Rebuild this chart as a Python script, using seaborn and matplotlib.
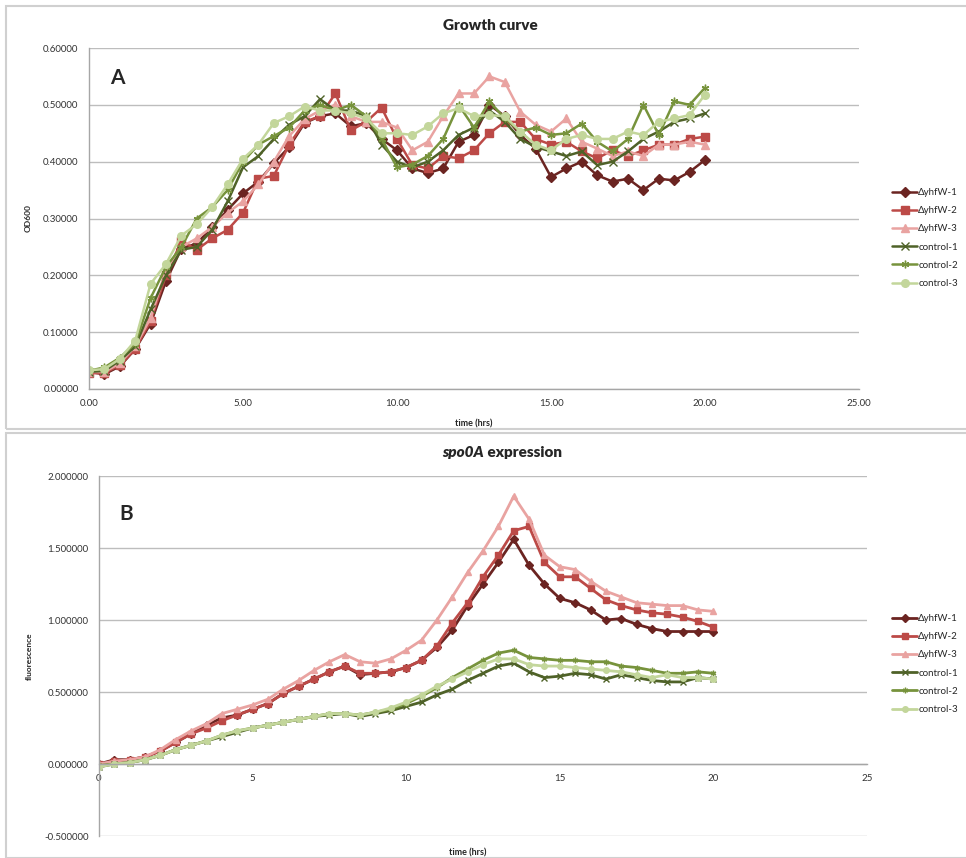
import numpy as np
import pandas as pd
import matplotlib
matplotlib.use("Agg")
import matplotlib.pyplot as plt
import matplotlib.patches as mpatches
from matplotlib.ticker import FormatStrFormatter
import seaborn as sns

# ---------------- data ----------------
series_names = ["\u0394yhfW-1", "\u0394yhfW-2", "\u0394yhfW-3", "control-1", "control-2", "control-3"]

time_a = [0.0, 0.5, 1.0, 1.5, 2.0, 2.5, 3.0, 3.5, 4.0, 4.5, 5.0, 5.5, 6.0, 6.5, 7.0, 7.5, 8.0, 8.5, 9.0, 9.5,
          10.0, 10.5, 11.0, 11.5, 12.0, 12.5, 13.0, 13.5, 14.0, 14.5, 15.0, 15.5, 16.0, 16.5, 17.0, 17.5, 18.0, 18.5,
          19.0, 19.5, 20.0]

od_yhfw1 = [0.030, 0.026, 0.040, 0.070, 0.115, 0.190, 0.247, 0.256, 0.285, 0.315, 0.344, 0.365, 0.397, 0.426, 0.468,
            0.480, 0.485, 0.462, 0.468, 0.440, 0.420, 0.388, 0.380, 0.388, 0.435, 0.447, 0.500, 0.480, 0.447, 0.423,
            0.373, 0.388, 0.400, 0.376, 0.365, 0.370, 0.350, 0.370, 0.367, 0.382, 0.403]
od_yhfw2 = [0.028, 0.028, 0.042, 0.070, 0.120, 0.200, 0.260, 0.245, 0.265, 0.280, 0.310, 0.370, 0.375, 0.430, 0.470,
            0.480, 0.520, 0.455, 0.470, 0.495, 0.440, 0.394, 0.388, 0.410, 0.406, 0.420, 0.450, 0.470, 0.470, 0.440,
            0.430, 0.435, 0.418, 0.406, 0.420, 0.410, 0.420, 0.430, 0.430, 0.440, 0.444]
od_yhfw3 = [0.030, 0.030, 0.045, 0.075, 0.125, 0.210, 0.250, 0.265, 0.285, 0.310, 0.330, 0.360, 0.400, 0.445, 0.475,
            0.490, 0.500, 0.480, 0.470, 0.470, 0.460, 0.420, 0.435, 0.480, 0.520, 0.520, 0.550, 0.540, 0.488, 0.465,
            0.453, 0.476, 0.435, 0.423, 0.410, 0.418, 0.410, 0.430, 0.430, 0.435, 0.430]
od_ctrl1 = [0.030, 0.032, 0.050, 0.075, 0.140, 0.200, 0.245, 0.250, 0.280, 0.330, 0.390, 0.410, 0.440, 0.465, 0.480,
            0.510, 0.490, 0.490, 0.480, 0.430, 0.400, 0.390, 0.400, 0.420, 0.447, 0.460, 0.490, 0.470, 0.440, 0.426,
            0.418, 0.410, 0.418, 0.394, 0.400, 0.418, 0.440, 0.453, 0.470, 0.476, 0.485]
od_ctrl2 = [0.032, 0.038, 0.055, 0.080, 0.160, 0.215, 0.250, 0.300, 0.320, 0.350, 0.400, 0.430, 0.445, 0.460, 0.490,
            0.500, 0.490, 0.500, 0.480, 0.440, 0.390, 0.395, 0.410, 0.440, 0.500, 0.460, 0.506, 0.476, 0.453, 0.460,
            0.447, 0.450, 0.467, 0.435, 0.418, 0.440, 0.500, 0.447, 0.506, 0.500, 0.530]
od_ctrl3 = [0.033, 0.035, 0.053, 0.085, 0.185, 0.220, 0.270, 0.290, 0.320, 0.360, 0.405, 0.430, 0.468, 0.480, 0.497,
            0.490, 0.490, 0.485, 0.476, 0.450, 0.450, 0.447, 0.462, 0.485, 0.494, 0.480, 0.482, 0.480, 0.453, 0.430,
            0.420, 0.440, 0.447, 0.440, 0.440, 0.453, 0.447, 0.470, 0.476, 0.482, 0.518]

time_b = time_a

fl_yhfw1 = [0.000, 0.030, 0.030, 0.050, 0.090, 0.150, 0.210, 0.270, 0.320, 0.340, 0.380, 0.420, 0.490, 0.540, 0.590,
            0.640, 0.680, 0.620, 0.630, 0.640, 0.670, 0.720, 0.810, 0.930, 1.100, 1.250, 1.400, 1.560, 1.380, 1.250,
            1.150, 1.120, 1.070, 1.000, 1.010, 0.970, 0.940, 0.920, 0.920, 0.920, 0.920]
fl_yhfw2 = [0.000, 0.020, 0.030, 0.050, 0.090, 0.150, 0.210, 0.250, 0.300, 0.340, 0.380, 0.420, 0.490, 0.540, 0.590,
            0.640, 0.680, 0.630, 0.630, 0.640, 0.670, 0.720, 0.820, 0.980, 1.120, 1.300, 1.450, 1.620, 1.650, 1.400,
            1.300, 1.300, 1.220, 1.140, 1.100, 1.070, 1.050, 1.040, 1.020, 0.990, 0.950]
fl_yhfw3 = [0.000, 0.020, 0.030, 0.050, 0.100, 0.170, 0.230, 0.280, 0.350, 0.380, 0.410, 0.450, 0.520, 0.580, 0.650,
            0.710, 0.760, 0.710, 0.700, 0.730, 0.790, 0.860, 1.000, 1.160, 1.330, 1.480, 1.650, 1.860, 1.700, 1.450,
            1.370, 1.350, 1.270, 1.200, 1.160, 1.120, 1.110, 1.100, 1.100, 1.070, 1.060]
fl_ctrl1 = [-0.020, 0.000, 0.010, 0.030, 0.060, 0.100, 0.130, 0.160, 0.190, 0.220, 0.250, 0.270, 0.290, 0.310, 0.330,
            0.340, 0.350, 0.330, 0.350, 0.370, 0.400, 0.430, 0.480, 0.520, 0.580, 0.630, 0.680, 0.700, 0.640, 0.600,
            0.610, 0.630, 0.620, 0.590, 0.620, 0.600, 0.580, 0.570, 0.570, 0.600, 0.590]
fl_ctrl2 = [-0.010, 0.000, 0.010, 0.030, 0.060, 0.100, 0.130, 0.160, 0.200, 0.230, 0.250, 0.270, 0.290, 0.310, 0.330,
            0.350, 0.350, 0.340, 0.360, 0.380, 0.420, 0.470, 0.530, 0.600, 0.660, 0.720, 0.770, 0.790, 0.740, 0.730,
            0.720, 0.720, 0.710, 0.710, 0.680, 0.670, 0.650, 0.630, 0.630, 0.640, 0.630]
fl_ctrl3 = [-0.020, 0.000, 0.010, 0.030, 0.060, 0.100, 0.130, 0.160, 0.200, 0.230, 0.250, 0.270, 0.290, 0.310, 0.330,
            0.350, 0.350, 0.340, 0.360, 0.390, 0.430, 0.480, 0.540, 0.590, 0.640, 0.690, 0.730, 0.730, 0.690, 0.680,
            0.680, 0.670, 0.660, 0.650, 0.640, 0.620, 0.600, 0.620, 0.600, 0.600, 0.590]

od_series = [od_yhfw1, od_yhfw2, od_yhfw3, od_ctrl1, od_ctrl2, od_ctrl3]
fl_series = [fl_yhfw1, fl_yhfw2, fl_yhfw3, fl_ctrl1, fl_ctrl2, fl_ctrl3]

x_ticks = [0, 5, 10, 15, 20, 25]
od_ticks = [0.0, 0.1, 0.2, 0.3, 0.4, 0.5, 0.6]
fl_ticks = [-0.5, 0.0, 0.5, 1.0, 1.5, 2.0]

# ---------------- style ----------------
colors = ["#6B2421", "#BC4A47", "#E9A3A1", "#4F6228", "#77933C", "#C3D69B"]
markers = ["D", "s", "^", "x", (6, 2, 0), "o"]

sns.set_style("white")
plt.rcParams["font.family"] = ["Lato", "DejaVu Sans"]

W, H = 966, 858
fig = plt.figure(figsize=(W / 100, H / 100), dpi=100)


def fx(px):
    return px / W


def fy(py):
    return 1 - py / H


# panel frames
for (x0, y0, x1, y1) in [(6, 6, 970, 429), (6, 433, 970, 858)]:
    fig.add_artist(mpatches.Rectangle((fx(x0), fy(y1)), fx(x1 - x0), (y1 - y0) / H,
                                      transform=fig.transFigure, fill=False,
                                      edgecolor="#D0D0D0", linewidth=1.5))


def draw_series(ax, t, series, msize, lw):
    for name, vals, c, m in zip(series_names, series, colors, markers):
        sns.lineplot(x=t, y=vals, color=c, marker=m, markersize=msize, markeredgecolor=c,
                     markerfacecolor=c, markeredgewidth=1.0, linewidth=lw, label=name,
                     ax=ax, sort=False)


def style_axes(ax):
    ax.set_facecolor("white")
    ax.grid(axis="y", color="#BDBDBD", linewidth=1.0)
    ax.grid(axis="x", visible=False)
    for s in ["top", "right"]:
        ax.spines[s].set_visible(False)
    for s in ["left", "bottom"]:
        ax.spines[s].set_color("#A6A6A6")
        ax.spines[s].set_linewidth(1.0)
    ax.tick_params(axis="both", colors="#A6A6A6", labelcolor="#333333", labelsize=7, length=4, width=1.0,
                   direction="out")
    ax.set_axisbelow(True)


# ---------------- panel A ----------------
axA = fig.add_axes([fx(89), fy(389), fx(859 - 89), (389 - 48) / H])
draw_series(axA, time_a, od_series, 5.5, 1.8)
axA.set_xlim(0, 25)
axA.set_ylim(0, 0.6)
axA.set_xticks(x_ticks)
axA.set_yticks(od_ticks)
axA.xaxis.set_major_formatter(FormatStrFormatter("%.2f"))
axA.yaxis.set_major_formatter(FormatStrFormatter("%.5f"))
style_axes(axA)
axA.set_xlabel("time (hrs)", fontsize=6.5, fontweight="bold", labelpad=8)
axA.set_ylabel("OD600", fontsize=6, fontweight="bold", labelpad=8)
fig.text(fx(117), fy(78), "A", fontsize=15, fontweight="bold", ha="center", va="center")
fig.text(fx(490), fy(25), "Growth curve", fontsize=11, fontweight="heavy", ha="center", va="center")

axA.legend(loc="center left", bbox_to_anchor=(fx(888), fy(238)), bbox_transform=fig.transFigure,
           frameon=False, fontsize=7, handlelength=2.6, handletextpad=0.1, labelspacing=0.95,
           borderaxespad=0)

# ---------------- panel B ----------------
axB = fig.add_axes([fx(99), fy(836), fx(867 - 99), (836 - 476) / H])
draw_series(axB, time_b, fl_series, 4.0, 2.0)
axB.set_xlim(0, 25)
axB.set_ylim(-0.5, 2.0)
axB.set_xticks(x_ticks)
axB.set_yticks(fl_ticks)
axB.yaxis.set_major_formatter(FormatStrFormatter("%.6f"))
style_axes(axB)
axB.spines["bottom"].set_position(("data", 0))
axB.set_xlabel("time (hrs)", fontsize=6.5, fontweight="bold")
axB.xaxis.set_label_coords(0.48, -0.035)
axB.set_ylabel("fluorescence", fontsize=6, fontweight="bold", labelpad=8)
fig.text(fx(126), fy(514), "B", fontsize=15, fontweight="bold", ha="center", va="center")
fig.text(fx(484), fy(452), "spo0A", fontsize=11, fontweight="heavy", fontstyle="italic",
         ha="right", va="center")
fig.text(fx(484), fy(452), " expression", fontsize=11, fontweight="heavy", ha="left", va="center")

axB.legend(loc="center left", bbox_to_anchor=(fx(888), fy(664)), bbox_transform=fig.transFigure,
           frameon=False, fontsize=7, handlelength=2.6, handletextpad=0.1, labelspacing=0.95,
           borderaxespad=0)

fig.savefig("out.png", dpi=100, facecolor="white")
